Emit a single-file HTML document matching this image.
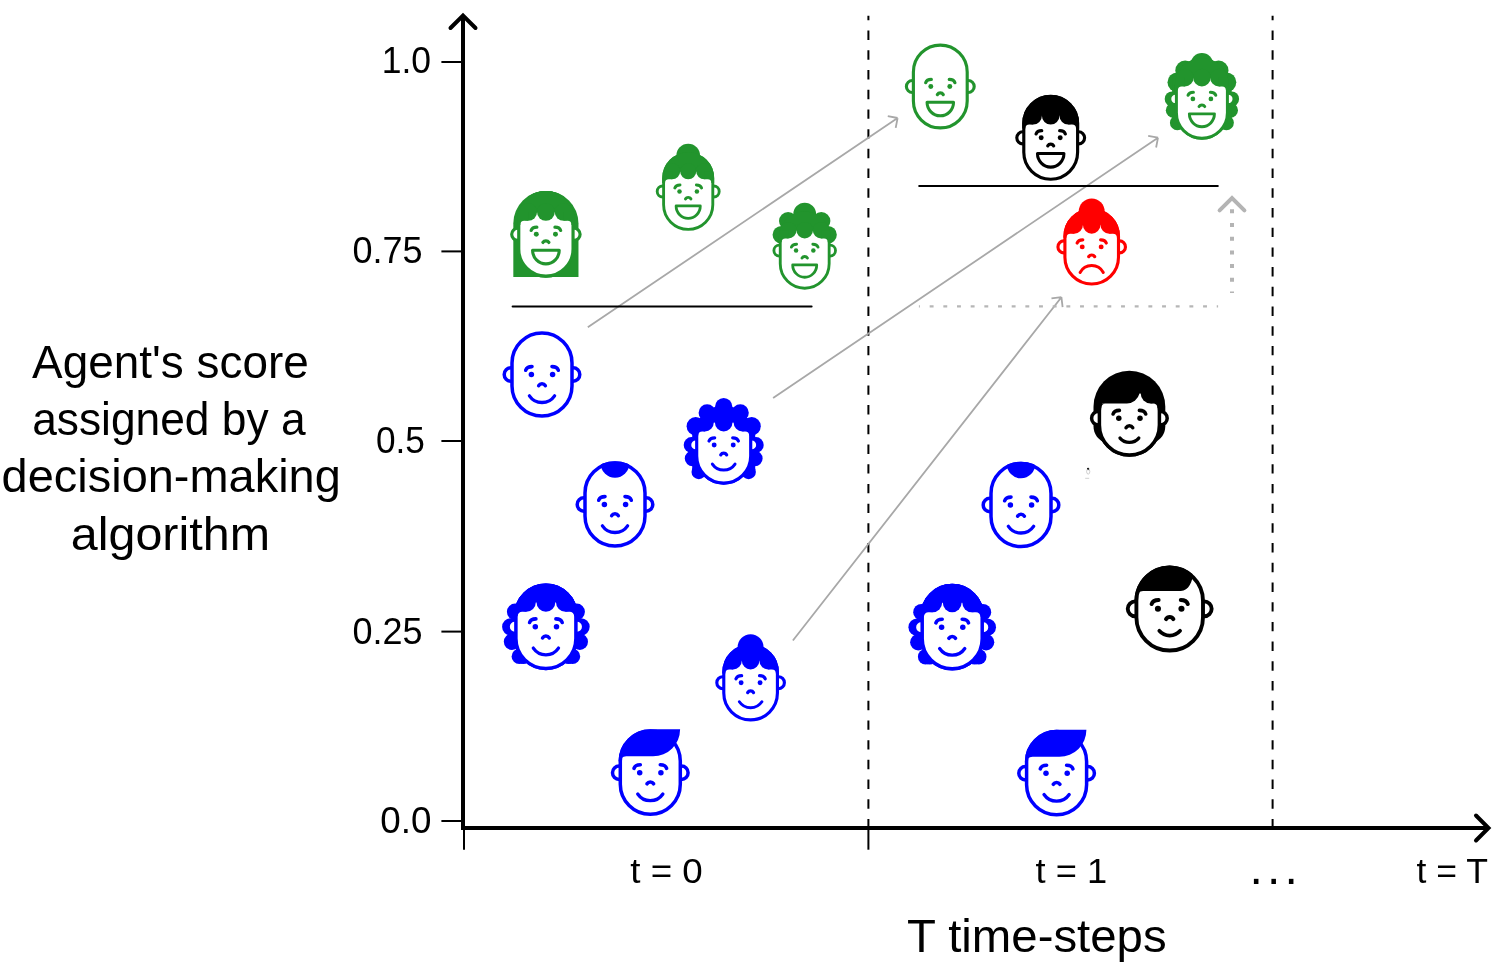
<!DOCTYPE html>
<html lang="en"><head><meta charset="utf-8"><title>Agent score over T time-steps</title>
<style>
html,body{margin:0;padding:0;background:#fff;overflow:hidden}
svg{display:block}
text{font-family:"Liberation Sans",sans-serif;fill:#000}
</style></head>
<body>
<svg width="1499" height="964" viewBox="0 0 1499 964">
<rect width="1499" height="964" fill="#fff"/>
<path d="M868.4,828.4V15.8" stroke="#000" stroke-width="2" stroke-dasharray="9.4 10.31" fill="none"/>
<path d="M1272.6,828.4V15.8" stroke="#000" stroke-width="2" stroke-dasharray="9.4 10.31" fill="none"/>
<path d="M587.8,327.3L897.6,118M897.6,118L895.7,127.82M897.6,118L887.78,116.1" fill="none" stroke="#a8a8a8" stroke-width="1.8" stroke-linejoin="round"/>
<path d="M773.1,398.1L1158,137.7M1158,137.7L1156.11,147.52M1158,137.7L1148.18,135.81" fill="none" stroke="#a8a8a8" stroke-width="1.8" stroke-linejoin="round"/>
<path d="M792.9,640.5L1061.4,297.2M1061.4,297.2L1062.61,307.13M1061.4,297.2L1051.47,298.41" fill="none" stroke="#a8a8a8" stroke-width="1.8" stroke-linejoin="round"/>
<path d="M918.9,306.4H1218.1" stroke="#b6b6b6" stroke-width="2.1" stroke-dasharray="3.9 9.77" stroke-dashoffset="2.9" fill="none"/>
<path d="M1232,209.3V293" stroke="#b4b4b4" stroke-width="4" stroke-dasharray="4 9.7" fill="none"/>
<path d="M1219.6,210.4L1232,198L1244.4,210.4" stroke="#b4b4b4" stroke-width="4" stroke-linecap="round" stroke-linejoin="miter" fill="none"/>
<path d="M512.6,306.4H811.6" stroke="#000" stroke-width="2" stroke-linecap="round" fill="none"/>
<path d="M919.2,186H1217.8" stroke="#000" stroke-width="2" stroke-linecap="round" fill="none"/>
<g transform="translate(545.9,234.3) scale(0.905)" color="#22942d"><path d="M-36,47.2V-12.2A36,35.75 0 0 1 36,-12.2V47.2Z" fill="currentColor"/><path d="M-30,-16.2A30,30 0 0 1 30,-16.2V16.2A30,30 0 0 1 -30,16.2Z" fill="#fff" stroke="currentColor" stroke-width="3.5"/><circle cx="-31.1" cy="0" r="6.7" fill="#fff" stroke="currentColor" stroke-width="3.5"/><circle cx="31.1" cy="0" r="6.7" fill="#fff" stroke="currentColor" stroke-width="3.5"/><path d="M-30,-16.2A30,30 0 0 1 30,-16.2V16.2A30,30 0 0 1 -30,16.2Z" fill="#fff" stroke="currentColor" stroke-width="3.5"/><clipPath id="c1"><path d="M-31.75,-16.2A31.75,31.75 0 0 1 31.75,-16.2V16.2A31.75,31.75 0 0 1 -31.75,16.2Z"/></clipPath><g clip-path="url(#c1)" fill="currentColor"><rect x="-40" y="-51.2" width="80" height="26.5"/><circle cx="-19.6" cy="-24.7" r="9.84"/><circle cx="0" cy="-24.7" r="9.84"/><circle cx="19.6" cy="-24.7" r="9.84"/><path d="M-19.6,-24.7V-14.86H-23.75A4.5,4.5 0 0 0 -28.25,-10.36H-40V-24.7ZM19.6,-24.7V-14.86H23.75A4.5,4.5 0 0 1 28.25,-10.36H40V-24.7Z"/></g><path d="M-16.3,-4.3C-15.5,-6.7 -13.2,-7.9 -10,-7.9M16.3,-4.3C15.5,-6.7 13.2,-7.9 10,-7.9" fill="none" stroke="currentColor" stroke-width="3.6" stroke-linecap="round"/><circle cx="-10.6" cy="0" r="2.75" fill="currentColor"/><circle cx="10.6" cy="0" r="2.75" fill="currentColor"/><path d="M-3.3,9A3.87,3.87 0 0 1 3.3,9" fill="none" stroke="currentColor" stroke-width="3.6" stroke-linecap="round"/><path d="M-14.75,17.6H14.75A14.75,15.1 0 0 1 -14.75,17.6Z" fill="#fff" stroke="currentColor" stroke-width="3.4" stroke-linejoin="round"/></g>
<g transform="translate(688.2,191.5) scale(0.82)" color="#22942d"><circle cx="0" cy="-43.6" r="14.5" fill="currentColor"/><circle cx="-31.1" cy="0" r="6.7" fill="#fff" stroke="currentColor" stroke-width="3.5"/><circle cx="31.1" cy="0" r="6.7" fill="#fff" stroke="currentColor" stroke-width="3.5"/><path d="M-30,-16.2A30,30 0 0 1 30,-16.2V16.2A30,30 0 0 1 -30,16.2Z" fill="#fff" stroke="currentColor" stroke-width="3.5"/><clipPath id="c2"><path d="M-31.75,-16.2A31.75,31.75 0 0 1 31.75,-16.2V16.2A31.75,31.75 0 0 1 -31.75,16.2Z"/></clipPath><g clip-path="url(#c2)" fill="currentColor"><rect x="-40" y="-51.2" width="80" height="26.5"/><circle cx="-19.6" cy="-24.7" r="9.84"/><circle cx="0" cy="-24.7" r="9.84"/><circle cx="19.6" cy="-24.7" r="9.84"/><path d="M-19.6,-24.7V-14.86H-23.75A4.5,4.5 0 0 0 -28.25,-10.36H-40V-24.7ZM19.6,-24.7V-14.86H23.75A4.5,4.5 0 0 1 28.25,-10.36H40V-24.7Z"/></g><path d="M-16.3,-4.3C-15.5,-6.7 -13.2,-7.9 -10,-7.9M16.3,-4.3C15.5,-6.7 13.2,-7.9 10,-7.9" fill="none" stroke="currentColor" stroke-width="3.6" stroke-linecap="round"/><circle cx="-10.6" cy="0" r="2.75" fill="currentColor"/><circle cx="10.6" cy="0" r="2.75" fill="currentColor"/><path d="M-3.3,9A3.87,3.87 0 0 1 3.3,9" fill="none" stroke="currentColor" stroke-width="3.6" stroke-linecap="round"/><path d="M-14.75,17.6H14.75A14.75,15.1 0 0 1 -14.75,17.6Z" fill="#fff" stroke="currentColor" stroke-width="3.4" stroke-linejoin="round"/></g>
<g transform="translate(804.7,250.6) scale(0.815)" color="#22942d"><g fill="currentColor"><circle cx="0" cy="-44.79" r="13.99"/><circle cx="20.37" cy="-36.2" r="11.17"/><circle cx="-20.37" cy="-36.2" r="11.17"/><circle cx="28.59" cy="-19.39" r="10.8"/><circle cx="-28.59" cy="-19.39" r="10.8"/></g><circle cx="-31.1" cy="0" r="6.7" fill="#fff" stroke="currentColor" stroke-width="3.5"/><circle cx="31.1" cy="0" r="6.7" fill="#fff" stroke="currentColor" stroke-width="3.5"/><path d="M-30,-16.2A30,30 0 0 1 30,-16.2V16.2A30,30 0 0 1 -30,16.2Z" fill="#fff" stroke="currentColor" stroke-width="3.5"/><clipPath id="c3"><path d="M-31.75,-16.2A31.75,31.75 0 0 1 31.75,-16.2V16.2A31.75,31.75 0 0 1 -31.75,16.2Z"/></clipPath><g clip-path="url(#c3)" fill="currentColor"><rect x="-40" y="-51.2" width="80" height="26.17"/><circle cx="-20.12" cy="-25.03" r="10.18"/><circle cx="0" cy="-25.03" r="10.18"/><circle cx="20.12" cy="-25.03" r="10.18"/><path d="M-20.12,-25.03V-14.85H-23.75A4.5,4.5 0 0 0 -28.25,-10.35H-40V-25.03ZM20.12,-25.03V-14.85H23.75A4.5,4.5 0 0 1 28.25,-10.35H40V-25.03Z"/></g><path d="M-16.3,-4.3C-15.5,-6.7 -13.2,-7.9 -10,-7.9M16.3,-4.3C15.5,-6.7 13.2,-7.9 10,-7.9" fill="none" stroke="currentColor" stroke-width="3.6" stroke-linecap="round"/><circle cx="-10.6" cy="0" r="2.75" fill="currentColor"/><circle cx="10.6" cy="0" r="2.75" fill="currentColor"/><path d="M-3.3,9A3.87,3.87 0 0 1 3.3,9" fill="none" stroke="currentColor" stroke-width="3.6" stroke-linecap="round"/><path d="M-14.75,17.6H14.75A14.75,15.1 0 0 1 -14.75,17.6Z" fill="#fff" stroke="currentColor" stroke-width="3.4" stroke-linejoin="round"/></g>
<g transform="translate(542,374.5) scale(1.0)" color="#0000ff"><circle cx="-31.1" cy="0" r="6.7" fill="#fff" stroke="currentColor" stroke-width="3.5"/><circle cx="31.1" cy="0" r="6.7" fill="#fff" stroke="currentColor" stroke-width="3.5"/><path d="M-30,-11.6A30,30 0 0 1 30,-11.6V11.6A30,30 0 0 1 -30,11.6Z" fill="#fff" stroke="currentColor" stroke-width="3.5"/><path d="M-16.3,-4.3C-15.5,-6.7 -13.2,-7.9 -10,-7.9M16.3,-4.3C15.5,-6.7 13.2,-7.9 10,-7.9" fill="none" stroke="currentColor" stroke-width="3.6" stroke-linecap="round"/><circle cx="-10.6" cy="0" r="2.75" fill="currentColor"/><circle cx="10.6" cy="0" r="2.75" fill="currentColor"/><path d="M-3.3,11.1A3.87,3.87 0 0 1 3.3,11.1" fill="none" stroke="currentColor" stroke-width="3.6" stroke-linecap="round"/><path d="M-12.6,21.3A15.2,15.2 0 0 0 12.6,21.3" fill="none" stroke="currentColor" stroke-width="3.3" stroke-linecap="round"/></g>
<g transform="translate(723.7,444.9) scale(0.9)" color="#0000ff"><g fill="currentColor"><circle cx="0" cy="-42.67" r="9.56"/><circle cx="18.44" cy="-35.78" r="9.44"/><circle cx="-18.44" cy="-35.78" r="9.44"/><circle cx="31.11" cy="-20.78" r="10.11"/><circle cx="-31.11" cy="-20.78" r="10.11"/><circle cx="35.78" cy="0" r="8.67"/><circle cx="-35.78" cy="0" r="8.67"/><circle cx="34.56" cy="15" r="8.67"/><circle cx="-34.56" cy="15" r="8.67"/><circle cx="27.67" cy="30" r="8.11"/><circle cx="-27.67" cy="30" r="8.11"/><ellipse cx="0" cy="-11.11" rx="30" ry="30"/><rect x="-35" y="-24.44" width="70" height="52.22"/></g><path d="M-30,-11.6A30,30 0 0 1 30,-11.6V12.4A30,30 0 0 1 -30,12.4Z" fill="#fff" stroke="currentColor" stroke-width="3.5"/><circle cx="-31.1" cy="0" r="6.7" fill="#fff" stroke="currentColor" stroke-width="3.5"/><circle cx="31.1" cy="0" r="6.7" fill="#fff" stroke="currentColor" stroke-width="3.5"/><path d="M-30,-11.6A30,30 0 0 1 30,-11.6V12.4A30,30 0 0 1 -30,12.4Z" fill="#fff" stroke="currentColor" stroke-width="3.5"/><clipPath id="c4"><path d="M-31.75,-11.6A31.75,31.75 0 0 1 31.75,-11.6V12.4A31.75,31.75 0 0 1 -31.75,12.4Z"/></clipPath><g clip-path="url(#c4)" fill="currentColor"><rect x="-40" y="-46.6" width="80" height="21.82"/><circle cx="-20.78" cy="-24.78" r="9.78"/><circle cx="0" cy="-24.78" r="9.78"/><circle cx="20.78" cy="-24.78" r="9.78"/><path d="M-20.78,-24.78V-15H-23.75A4.5,4.5 0 0 0 -28.25,-10.5H-40V-24.78ZM20.78,-24.78V-15H23.75A4.5,4.5 0 0 1 28.25,-10.5H40V-24.78Z"/></g><path d="M-16.3,-4.3C-15.5,-6.7 -13.2,-7.9 -10,-7.9M16.3,-4.3C15.5,-6.7 13.2,-7.9 10,-7.9" fill="none" stroke="currentColor" stroke-width="3.6" stroke-linecap="round"/><circle cx="-10.6" cy="0" r="2.75" fill="currentColor"/><circle cx="10.6" cy="0" r="2.75" fill="currentColor"/><path d="M-3.3,11.1A3.87,3.87 0 0 1 3.3,11.1" fill="none" stroke="currentColor" stroke-width="3.6" stroke-linecap="round"/><path d="M-12.6,21.3A15.2,15.2 0 0 0 12.6,21.3" fill="none" stroke="currentColor" stroke-width="3.3" stroke-linecap="round"/></g>
<g transform="translate(615,504.5) scale(1.0)" color="#0000ff"><circle cx="-31.1" cy="0" r="6.7" fill="#fff" stroke="currentColor" stroke-width="3.5"/><circle cx="31.1" cy="0" r="6.7" fill="#fff" stroke="currentColor" stroke-width="3.5"/><path d="M-30,-11.6A30,30 0 0 1 30,-11.6V11.6A30,30 0 0 1 -30,11.6Z" fill="#fff" stroke="currentColor" stroke-width="3.5"/><clipPath id="c5"><path d="M-31.75,-11.6A31.75,31.75 0 0 1 31.75,-11.6V11.6A31.75,31.75 0 0 1 -31.75,11.6Z"/></clipPath><circle cx="0" cy="-41" r="14.3" fill="currentColor" clip-path="url(#c5)"/><path d="M-16.3,-4.3C-15.5,-6.7 -13.2,-7.9 -10,-7.9M16.3,-4.3C15.5,-6.7 13.2,-7.9 10,-7.9" fill="none" stroke="currentColor" stroke-width="3.6" stroke-linecap="round"/><circle cx="-10.6" cy="0" r="2.75" fill="currentColor"/><circle cx="10.6" cy="0" r="2.75" fill="currentColor"/><path d="M-3.3,11.1A3.87,3.87 0 0 1 3.3,11.1" fill="none" stroke="currentColor" stroke-width="3.6" stroke-linecap="round"/><path d="M-12.6,21.3A15.2,15.2 0 0 0 12.6,21.3" fill="none" stroke="currentColor" stroke-width="3.3" stroke-linecap="round"/></g>
<g transform="translate(545.9,626.8) scale(1.0)" color="#0000ff"><g fill="currentColor"><circle cx="30.7" cy="-15" r="8.3"/><circle cx="-30.7" cy="-15" r="8.3"/><circle cx="35.2" cy="0" r="8.6"/><circle cx="-35.2" cy="0" r="8.6"/><circle cx="33.9" cy="15" r="8.2"/><circle cx="-33.9" cy="15" r="8.2"/><circle cx="26.6" cy="29.6" r="7.7"/><circle cx="-26.6" cy="29.6" r="7.7"/><circle cx="22.5" cy="31" r="6.3"/><circle cx="-22.5" cy="31" r="6.3"/></g><path d="M-30,-11.6A30,30 0 0 1 30,-11.6V11.6A30,30 0 0 1 -30,11.6Z" fill="#fff" stroke="currentColor" stroke-width="3.5"/><circle cx="-31.1" cy="0" r="6.7" fill="#fff" stroke="currentColor" stroke-width="3.5"/><circle cx="31.1" cy="0" r="6.7" fill="#fff" stroke="currentColor" stroke-width="3.5"/><path d="M-30,-11.6A30,30 0 0 1 30,-11.6V11.6A30,30 0 0 1 -30,11.6Z" fill="#fff" stroke="currentColor" stroke-width="3.5"/><clipPath id="c6"><path d="M-31.75,-11.6A31.75,31.75 0 0 1 31.75,-11.6V11.6A31.75,31.75 0 0 1 -31.75,11.6Z"/></clipPath><g clip-path="url(#c6)" fill="currentColor"><rect x="-40" y="-46.6" width="80" height="22.2"/><circle cx="-19.5" cy="-24.4" r="9.4"/><circle cx="0" cy="-24.4" r="9.4"/><circle cx="19.5" cy="-24.4" r="9.4"/><path d="M-19.5,-24.4V-15H-23.75A4.5,4.5 0 0 0 -28.25,-10.5H-40V-24.4ZM19.5,-24.4V-15H23.75A4.5,4.5 0 0 1 28.25,-10.5H40V-24.4Z"/></g><path d="M-16.3,-4.3C-15.5,-6.7 -13.2,-7.9 -10,-7.9M16.3,-4.3C15.5,-6.7 13.2,-7.9 10,-7.9" fill="none" stroke="currentColor" stroke-width="3.6" stroke-linecap="round"/><circle cx="-10.6" cy="0" r="2.75" fill="currentColor"/><circle cx="10.6" cy="0" r="2.75" fill="currentColor"/><path d="M-3.3,11.1A3.87,3.87 0 0 1 3.3,11.1" fill="none" stroke="currentColor" stroke-width="3.6" stroke-linecap="round"/><path d="M-12.6,21.3A15.2,15.2 0 0 0 12.6,21.3" fill="none" stroke="currentColor" stroke-width="3.3" stroke-linecap="round"/></g>
<g transform="translate(750.6,682.7) scale(0.894)" color="#0000ff"><circle cx="0" cy="-39.8" r="14.5" fill="currentColor"/><circle cx="-31.1" cy="0" r="6.7" fill="#fff" stroke="currentColor" stroke-width="3.5"/><circle cx="31.1" cy="0" r="6.7" fill="#fff" stroke="currentColor" stroke-width="3.5"/><path d="M-30,-11.6A30,30 0 0 1 30,-11.6V11.6A30,30 0 0 1 -30,11.6Z" fill="#fff" stroke="currentColor" stroke-width="3.5"/><clipPath id="c7"><path d="M-31.75,-11.6A31.75,31.75 0 0 1 31.75,-11.6V11.6A31.75,31.75 0 0 1 -31.75,11.6Z"/></clipPath><g clip-path="url(#c7)" fill="currentColor"><rect x="-40" y="-46.6" width="80" height="21.9"/><circle cx="-19.6" cy="-24.7" r="9.84"/><circle cx="0" cy="-24.7" r="9.84"/><circle cx="19.6" cy="-24.7" r="9.84"/><path d="M-19.6,-24.7V-14.86H-23.75A4.5,4.5 0 0 0 -28.25,-10.36H-40V-24.7ZM19.6,-24.7V-14.86H23.75A4.5,4.5 0 0 1 28.25,-10.36H40V-24.7Z"/></g><path d="M-16.3,-4.3C-15.5,-6.7 -13.2,-7.9 -10,-7.9M16.3,-4.3C15.5,-6.7 13.2,-7.9 10,-7.9" fill="none" stroke="currentColor" stroke-width="3.6" stroke-linecap="round"/><circle cx="-10.6" cy="0" r="2.75" fill="currentColor"/><circle cx="10.6" cy="0" r="2.75" fill="currentColor"/><path d="M-3.3,11.1A3.87,3.87 0 0 1 3.3,11.1" fill="none" stroke="currentColor" stroke-width="3.6" stroke-linecap="round"/><path d="M-12.6,21.3A15.2,15.2 0 0 0 12.6,21.3" fill="none" stroke="currentColor" stroke-width="3.3" stroke-linecap="round"/></g>
<g transform="translate(650.3,772.7) scale(1.0)" color="#0000ff"><circle cx="-31.1" cy="0" r="6.7" fill="#fff" stroke="currentColor" stroke-width="3.5"/><circle cx="31.1" cy="0" r="6.7" fill="#fff" stroke="currentColor" stroke-width="3.5"/><path d="M-30,-11.6A30,30 0 0 1 30,-11.6V11.6A30,30 0 0 1 -30,11.6Z" fill="#fff" stroke="currentColor" stroke-width="3.5"/><path d="M-31.75,-11.6A31.75,31.75 0 0 1 0,-43.35H29.8A27,27 0 0 1 2.8,-16.4H-24Q-30,-16.2 -30.2,-9.5Z" fill="currentColor"/><path d="M-16.3,-4.3C-15.5,-6.7 -13.2,-7.9 -10,-7.9M16.3,-4.3C15.5,-6.7 13.2,-7.9 10,-7.9" fill="none" stroke="currentColor" stroke-width="3.6" stroke-linecap="round"/><circle cx="-10.6" cy="0" r="2.75" fill="currentColor"/><circle cx="10.6" cy="0" r="2.75" fill="currentColor"/><path d="M-3.3,11.1A3.87,3.87 0 0 1 3.3,11.1" fill="none" stroke="currentColor" stroke-width="3.6" stroke-linecap="round"/><path d="M-12.6,21.3A15.2,15.2 0 0 0 12.6,21.3" fill="none" stroke="currentColor" stroke-width="3.3" stroke-linecap="round"/></g>
<g transform="translate(940.3,86.5) scale(0.897)" color="#22942d"><circle cx="-31.1" cy="0" r="6.7" fill="#fff" stroke="currentColor" stroke-width="3.5"/><circle cx="31.1" cy="0" r="6.7" fill="#fff" stroke="currentColor" stroke-width="3.5"/><path d="M-30,-16.2A30,30 0 0 1 30,-16.2V16.2A30,30 0 0 1 -30,16.2Z" fill="#fff" stroke="currentColor" stroke-width="3.5"/><path d="M-16.3,-4.3C-15.5,-6.7 -13.2,-7.9 -10,-7.9M16.3,-4.3C15.5,-6.7 13.2,-7.9 10,-7.9" fill="none" stroke="currentColor" stroke-width="3.6" stroke-linecap="round"/><circle cx="-10.6" cy="0" r="2.75" fill="currentColor"/><circle cx="10.6" cy="0" r="2.75" fill="currentColor"/><path d="M-3.3,9A3.87,3.87 0 0 1 3.3,9" fill="none" stroke="currentColor" stroke-width="3.6" stroke-linecap="round"/><path d="M-14.75,17.6H14.75A14.75,15.1 0 0 1 -14.75,17.6Z" fill="#fff" stroke="currentColor" stroke-width="3.4" stroke-linejoin="round"/></g>
<g transform="translate(1050.7,137.8) scale(0.897)" color="#000000"><circle cx="-31.1" cy="0" r="6.7" fill="#fff" stroke="currentColor" stroke-width="3.5"/><circle cx="31.1" cy="0" r="6.7" fill="#fff" stroke="currentColor" stroke-width="3.5"/><path d="M-30,-16.2A30,30 0 0 1 30,-16.2V16.2A30,30 0 0 1 -30,16.2Z" fill="#fff" stroke="currentColor" stroke-width="3.5"/><clipPath id="c8"><path d="M-31.75,-16.2A31.75,31.75 0 0 1 31.75,-16.2V16.2A31.75,31.75 0 0 1 -31.75,16.2Z"/></clipPath><g clip-path="url(#c8)" fill="currentColor"><rect x="-40" y="-51.2" width="80" height="26.5"/><circle cx="-19.6" cy="-24.7" r="9.84"/><circle cx="0" cy="-24.7" r="9.84"/><circle cx="19.6" cy="-24.7" r="9.84"/><path d="M-19.6,-24.7V-14.86H-23.75A4.5,4.5 0 0 0 -28.25,-10.36H-40V-24.7ZM19.6,-24.7V-14.86H23.75A4.5,4.5 0 0 1 28.25,-10.36H40V-24.7Z"/></g><path d="M-16.3,-4.3C-15.5,-6.7 -13.2,-7.9 -10,-7.9M16.3,-4.3C15.5,-6.7 13.2,-7.9 10,-7.9" fill="none" stroke="currentColor" stroke-width="3.6" stroke-linecap="round"/><circle cx="-10.6" cy="0" r="2.75" fill="currentColor"/><circle cx="10.6" cy="0" r="2.75" fill="currentColor"/><path d="M-3.3,9A3.87,3.87 0 0 1 3.3,9" fill="none" stroke="currentColor" stroke-width="3.6" stroke-linecap="round"/><path d="M-14.75,17.6H14.75A14.75,15.1 0 0 1 -14.75,17.6Z" fill="#fff" stroke="currentColor" stroke-width="3.4" stroke-linejoin="round"/></g>
<g transform="translate(1201.9,98.9) scale(0.85)" color="#22942d"><g fill="currentColor"><circle cx="0" cy="-40.94" r="13.18"/><circle cx="19.65" cy="-33.53" r="11.65"/><circle cx="-19.65" cy="-33.53" r="11.65"/><circle cx="28.82" cy="-19.53" r="11.65"/><circle cx="-28.82" cy="-19.53" r="11.65"/><circle cx="34.94" cy="0" r="8.82"/><circle cx="-34.94" cy="0" r="8.82"/><circle cx="33.65" cy="13.41" r="8.82"/><circle cx="-33.65" cy="13.41" r="8.82"/><circle cx="28.82" cy="28.12" r="8.82"/><circle cx="-28.82" cy="28.12" r="8.82"/><ellipse cx="0" cy="-11.76" rx="31.76" ry="31.76"/><rect x="-35" y="-25.88" width="70" height="55.29"/></g><path d="M-30,-16.2A30,30 0 0 1 30,-16.2V16.2A30,30 0 0 1 -30,16.2Z" fill="#fff" stroke="currentColor" stroke-width="3.5"/><circle cx="-31.1" cy="0" r="6.7" fill="#fff" stroke="currentColor" stroke-width="3.5"/><circle cx="31.1" cy="0" r="6.7" fill="#fff" stroke="currentColor" stroke-width="3.5"/><path d="M-30,-16.2A30,30 0 0 1 30,-16.2V16.2A30,30 0 0 1 -30,16.2Z" fill="#fff" stroke="currentColor" stroke-width="3.5"/><clipPath id="c9"><path d="M-31.75,-16.2A31.75,31.75 0 0 1 31.75,-16.2V16.2A31.75,31.75 0 0 1 -31.75,16.2Z"/></clipPath><g clip-path="url(#c9)" fill="currentColor"><rect x="-40" y="-51.2" width="80" height="26.14"/><circle cx="-20" cy="-25.06" r="10.35"/><circle cx="0" cy="-25.06" r="10.35"/><circle cx="20" cy="-25.06" r="10.35"/><path d="M-20,-25.06V-14.71H-23.75A4.5,4.5 0 0 0 -28.25,-10.21H-40V-25.06ZM20,-25.06V-14.71H23.75A4.5,4.5 0 0 1 28.25,-10.21H40V-25.06Z"/></g><path d="M-16.3,-4.3C-15.5,-6.7 -13.2,-7.9 -10,-7.9M16.3,-4.3C15.5,-6.7 13.2,-7.9 10,-7.9" fill="none" stroke="currentColor" stroke-width="3.6" stroke-linecap="round"/><circle cx="-10.6" cy="0" r="2.75" fill="currentColor"/><circle cx="10.6" cy="0" r="2.75" fill="currentColor"/><path d="M-3.3,9A3.87,3.87 0 0 1 3.3,9" fill="none" stroke="currentColor" stroke-width="3.6" stroke-linecap="round"/><path d="M-14.75,17.6H14.75A14.75,15.1 0 0 1 -14.75,17.6Z" fill="#fff" stroke="currentColor" stroke-width="3.4" stroke-linejoin="round"/></g>
<g transform="translate(1091.7,246.9) scale(0.893)" color="#ff0000"><circle cx="0" cy="-39.8" r="14.5" fill="currentColor"/><circle cx="-31.1" cy="0" r="6.7" fill="#fff" stroke="currentColor" stroke-width="3.5"/><circle cx="31.1" cy="0" r="6.7" fill="#fff" stroke="currentColor" stroke-width="3.5"/><path d="M-30,-11.6A30,30 0 0 1 30,-11.6V11.6A30,30 0 0 1 -30,11.6Z" fill="#fff" stroke="currentColor" stroke-width="3.5"/><clipPath id="c10"><path d="M-31.75,-11.6A31.75,31.75 0 0 1 31.75,-11.6V11.6A31.75,31.75 0 0 1 -31.75,11.6Z"/></clipPath><g clip-path="url(#c10)" fill="currentColor"><rect x="-40" y="-46.6" width="80" height="21.9"/><circle cx="-19.6" cy="-24.7" r="9.84"/><circle cx="0" cy="-24.7" r="9.84"/><circle cx="19.6" cy="-24.7" r="9.84"/><path d="M-19.6,-24.7V-14.86H-23.75A4.5,4.5 0 0 0 -28.25,-10.36H-40V-24.7ZM19.6,-24.7V-14.86H23.75A4.5,4.5 0 0 1 28.25,-10.36H40V-24.7Z"/></g><path d="M-16.3,-4.3C-15.5,-6.7 -13.2,-7.9 -10,-7.9M16.3,-4.3C15.5,-6.7 13.2,-7.9 10,-7.9" fill="none" stroke="currentColor" stroke-width="3.6" stroke-linecap="round"/><circle cx="-10.6" cy="0" r="2.75" fill="currentColor"/><circle cx="10.6" cy="0" r="2.75" fill="currentColor"/><path d="M-3.3,10.9A3.87,3.87 0 0 1 3.3,10.9" fill="none" stroke="currentColor" stroke-width="3.6" stroke-linecap="round"/><path d="M-13,28.7A14.7,14.7 0 0 1 13,28.7" fill="none" stroke="currentColor" stroke-width="3.3" stroke-linecap="round"/></g>
<g transform="translate(1129.4,418.3) scale(1.0)" color="#000000"><path d="M-35.9,-11.6A35.9,35.9 0 0 1 35.9,-11.6V8C35.9,16 31,21 26,24H-26C-31,21 -35.9,16 -35.9,8Z" fill="currentColor"/><path d="M-30,-7.5A30,30 0 0 1 30,-7.5V6.8A30,30 0 0 1 -30,6.8Z" fill="#fff" stroke="currentColor" stroke-width="3.5"/><circle cx="-31.1" cy="0" r="6.7" fill="#fff" stroke="currentColor" stroke-width="3.5"/><circle cx="31.1" cy="0" r="6.7" fill="#fff" stroke="currentColor" stroke-width="3.5"/><path d="M-30,-7.5A30,30 0 0 1 30,-7.5V6.8A30,30 0 0 1 -30,6.8Z" fill="#fff" stroke="currentColor" stroke-width="3.5"/><clipPath id="c11"><path d="M-31.75,-7.5A31.75,31.75 0 0 1 31.75,-7.5V6.8A31.75,31.75 0 0 1 -31.75,6.8Z"/></clipPath><g clip-path="url(#c11)" fill="currentColor"><path d="M-40,-50H40V-24.7H10.1A13,13 0 0 1 -2.7,-14.8H-40Z"/><circle cx="21.2" cy="-24.7" r="9.9"/><path d="M21.2,-24.7V-14.8H23.75A4.5,4.5 0 0 1 28.25,-10.3H40V-24.7ZM-23.75,-14.8A4.5,4.5 0 0 0 -28.25,-10.3H-40V-14.8Z"/></g><path d="M-16.3,-4.3C-15.5,-6.7 -13.2,-7.9 -10,-7.9M16.3,-4.3C15.5,-6.7 13.2,-7.9 10,-7.9" fill="none" stroke="currentColor" stroke-width="3.6" stroke-linecap="round"/><circle cx="-10.6" cy="0" r="2.75" fill="currentColor"/><circle cx="10.6" cy="0" r="2.75" fill="currentColor"/><path d="M-3.3,9.3A3.87,3.87 0 0 1 3.3,9.3" fill="none" stroke="currentColor" stroke-width="3.6" stroke-linecap="round"/><path d="M-9.4,19.8A12.4,12.4 0 0 0 9.4,19.8" fill="none" stroke="currentColor" stroke-width="3.3" stroke-linecap="round"/></g>
<g transform="translate(1021,505) scale(1.0)" color="#0000ff"><circle cx="-31.1" cy="0" r="6.7" fill="#fff" stroke="currentColor" stroke-width="3.5"/><circle cx="31.1" cy="0" r="6.7" fill="#fff" stroke="currentColor" stroke-width="3.5"/><path d="M-30,-11.6A30,30 0 0 1 30,-11.6V11.6A30,30 0 0 1 -30,11.6Z" fill="#fff" stroke="currentColor" stroke-width="3.5"/><clipPath id="c12"><path d="M-31.75,-11.6A31.75,31.75 0 0 1 31.75,-11.6V11.6A31.75,31.75 0 0 1 -31.75,11.6Z"/></clipPath><circle cx="0" cy="-41" r="14.3" fill="currentColor" clip-path="url(#c12)"/><path d="M-16.3,-4.3C-15.5,-6.7 -13.2,-7.9 -10,-7.9M16.3,-4.3C15.5,-6.7 13.2,-7.9 10,-7.9" fill="none" stroke="currentColor" stroke-width="3.6" stroke-linecap="round"/><circle cx="-10.6" cy="0" r="2.75" fill="currentColor"/><circle cx="10.6" cy="0" r="2.75" fill="currentColor"/><path d="M-3.3,11.1A3.87,3.87 0 0 1 3.3,11.1" fill="none" stroke="currentColor" stroke-width="3.6" stroke-linecap="round"/><path d="M-12.6,21.3A15.2,15.2 0 0 0 12.6,21.3" fill="none" stroke="currentColor" stroke-width="3.3" stroke-linecap="round"/></g>
<g transform="translate(952.2,627.2) scale(1.0)" color="#0000ff"><g fill="currentColor"><circle cx="30.7" cy="-15" r="8.3"/><circle cx="-30.7" cy="-15" r="8.3"/><circle cx="35.2" cy="0" r="8.6"/><circle cx="-35.2" cy="0" r="8.6"/><circle cx="33.9" cy="15" r="8.2"/><circle cx="-33.9" cy="15" r="8.2"/><circle cx="26.6" cy="29.6" r="7.7"/><circle cx="-26.6" cy="29.6" r="7.7"/><circle cx="22.5" cy="31" r="6.3"/><circle cx="-22.5" cy="31" r="6.3"/></g><path d="M-30,-11.6A30,30 0 0 1 30,-11.6V11.6A30,30 0 0 1 -30,11.6Z" fill="#fff" stroke="currentColor" stroke-width="3.5"/><circle cx="-31.1" cy="0" r="6.7" fill="#fff" stroke="currentColor" stroke-width="3.5"/><circle cx="31.1" cy="0" r="6.7" fill="#fff" stroke="currentColor" stroke-width="3.5"/><path d="M-30,-11.6A30,30 0 0 1 30,-11.6V11.6A30,30 0 0 1 -30,11.6Z" fill="#fff" stroke="currentColor" stroke-width="3.5"/><clipPath id="c13"><path d="M-31.75,-11.6A31.75,31.75 0 0 1 31.75,-11.6V11.6A31.75,31.75 0 0 1 -31.75,11.6Z"/></clipPath><g clip-path="url(#c13)" fill="currentColor"><rect x="-40" y="-46.6" width="80" height="22.2"/><circle cx="-19.5" cy="-24.4" r="9.4"/><circle cx="0" cy="-24.4" r="9.4"/><circle cx="19.5" cy="-24.4" r="9.4"/><path d="M-19.5,-24.4V-15H-23.75A4.5,4.5 0 0 0 -28.25,-10.5H-40V-24.4ZM19.5,-24.4V-15H23.75A4.5,4.5 0 0 1 28.25,-10.5H40V-24.4Z"/></g><path d="M-16.3,-4.3C-15.5,-6.7 -13.2,-7.9 -10,-7.9M16.3,-4.3C15.5,-6.7 13.2,-7.9 10,-7.9" fill="none" stroke="currentColor" stroke-width="3.6" stroke-linecap="round"/><circle cx="-10.6" cy="0" r="2.75" fill="currentColor"/><circle cx="10.6" cy="0" r="2.75" fill="currentColor"/><path d="M-3.3,11.1A3.87,3.87 0 0 1 3.3,11.1" fill="none" stroke="currentColor" stroke-width="3.6" stroke-linecap="round"/><path d="M-12.6,21.3A15.2,15.2 0 0 0 12.6,21.3" fill="none" stroke="currentColor" stroke-width="3.3" stroke-linecap="round"/></g>
<g transform="translate(1169.7,608.8) scale(1.11)" color="#000000"><circle cx="-31.1" cy="0" r="6.7" fill="#fff" stroke="currentColor" stroke-width="3.5"/><circle cx="31.1" cy="0" r="6.7" fill="#fff" stroke="currentColor" stroke-width="3.5"/><path d="M-30,-7.2A30,30 0 0 1 30,-7.2V7.6A30,30 0 0 1 -30,7.6Z" fill="#fff" stroke="currentColor" stroke-width="3.5"/><path d="M-31.75,-7.2A31.75,31.75 0 0 1 20.6,-31.36C21.1,-25.36 17,-16 10,-16H-24Q-29,-16 -30,-10Z" fill="currentColor"/><path d="M-16.3,-4.3C-15.5,-6.7 -13.2,-7.9 -10,-7.9M16.3,-4.3C15.5,-6.7 13.2,-7.9 10,-7.9" fill="none" stroke="currentColor" stroke-width="3.6" stroke-linecap="round"/><circle cx="-10.6" cy="0" r="2.75" fill="currentColor"/><circle cx="10.6" cy="0" r="2.75" fill="currentColor"/><path d="M-3.3,9.3A3.87,3.87 0 0 1 3.3,9.3" fill="none" stroke="currentColor" stroke-width="3.6" stroke-linecap="round"/><path d="M-9.4,19.8A12.4,12.4 0 0 0 9.4,19.8" fill="none" stroke="currentColor" stroke-width="3.3" stroke-linecap="round"/></g>
<g transform="translate(1056.6,773.2) scale(1.0)" color="#0000ff"><circle cx="-31.1" cy="0" r="6.7" fill="#fff" stroke="currentColor" stroke-width="3.5"/><circle cx="31.1" cy="0" r="6.7" fill="#fff" stroke="currentColor" stroke-width="3.5"/><path d="M-30,-11.6A30,30 0 0 1 30,-11.6V11.6A30,30 0 0 1 -30,11.6Z" fill="#fff" stroke="currentColor" stroke-width="3.5"/><path d="M-31.75,-11.6A31.75,31.75 0 0 1 0,-43.35H29.8A27,27 0 0 1 2.8,-16.4H-24Q-30,-16.2 -30.2,-9.5Z" fill="currentColor"/><path d="M-16.3,-4.3C-15.5,-6.7 -13.2,-7.9 -10,-7.9M16.3,-4.3C15.5,-6.7 13.2,-7.9 10,-7.9" fill="none" stroke="currentColor" stroke-width="3.6" stroke-linecap="round"/><circle cx="-10.6" cy="0" r="2.75" fill="currentColor"/><circle cx="10.6" cy="0" r="2.75" fill="currentColor"/><path d="M-3.3,11.1A3.87,3.87 0 0 1 3.3,11.1" fill="none" stroke="currentColor" stroke-width="3.6" stroke-linecap="round"/><path d="M-12.6,21.3A15.2,15.2 0 0 0 12.6,21.3" fill="none" stroke="currentColor" stroke-width="3.3" stroke-linecap="round"/></g>
<circle cx="1088.1" cy="469" r="1.15" fill="#000"/><ellipse cx="1088.2" cy="471.6" rx="1.6" ry="2.5" fill="none" stroke="#b0b0b0" stroke-width="0.6"/><path d="M1085.2,478.3H1089.2" stroke="#d0d0d0" stroke-width="1"/>
<path d="M463,830V15" stroke="#000" stroke-width="4" fill="none"/>
<path d="M461,828H1489" stroke="#000" stroke-width="4" fill="none"/>
<path d="M450.5,28L463,15.5L475.5,28" stroke="#000" stroke-width="4" stroke-linecap="round" stroke-linejoin="miter" fill="none"/>
<path d="M1476,815.5L1488.5,828L1476,840.5" stroke="#000" stroke-width="4" stroke-linecap="round" stroke-linejoin="miter" fill="none"/>
<path d="M441.4,62H462" stroke="#000" stroke-width="2" fill="none"/>
<path d="M441.4,251.4H462" stroke="#000" stroke-width="2" fill="none"/>
<path d="M441.4,441H462" stroke="#000" stroke-width="2" fill="none"/>
<path d="M441.4,631.6H462" stroke="#000" stroke-width="2" fill="none"/>
<path d="M441.4,821H462" stroke="#000" stroke-width="2" fill="none"/>
<path d="M464,829V849.7" stroke="#000" stroke-width="2" fill="none"/>
<path d="M868.4,829V849.7" stroke="#000" stroke-width="2" fill="none"/>
<text x="381.74" y="73.3" font-size="36.3" textLength="49.35" lengthAdjust="spacingAndGlyphs">1.0</text>
<text x="352.54" y="262.7" font-size="36.3" textLength="70.1" lengthAdjust="spacingAndGlyphs">0.75</text>
<text x="375.93" y="453.2" font-size="36.3" textLength="48.95" lengthAdjust="spacingAndGlyphs">0.5</text>
<text x="352.54" y="643.8" font-size="36.3" textLength="70.1" lengthAdjust="spacingAndGlyphs">0.25</text>
<text x="380.35" y="832.6" font-size="36.3" textLength="51.16" lengthAdjust="spacingAndGlyphs">0.0</text>
<text x="630.25" y="883.1" font-size="35.4" textLength="72.54" lengthAdjust="spacingAndGlyphs">t = 0</text>
<text x="1035.57" y="883.2" font-size="35.4" textLength="71.59" lengthAdjust="spacingAndGlyphs">t = 1</text>
<text x="1416.46" y="883.2" font-size="35.4" textLength="71.5" lengthAdjust="spacingAndGlyphs">t = T</text>
<text x="906.97" y="951.6" font-size="45.5" textLength="259.6" lengthAdjust="spacingAndGlyphs">T time-steps</text>
<text x="32.02" y="377.8" font-size="45.5" textLength="276.73" lengthAdjust="spacingAndGlyphs">Agent's score</text>
<text x="32.15" y="434.6" font-size="45.5" textLength="273.42" lengthAdjust="spacingAndGlyphs">assigned by a</text>
<text x="1.63" y="492.3" font-size="45.5" textLength="339.19" lengthAdjust="spacingAndGlyphs">decision-making</text>
<text x="70.73" y="549.6" font-size="45.5" textLength="199.28" lengthAdjust="spacingAndGlyphs">algorithm</text>
<text x="1249.5 1258 1266.9 1276 1284.4" y="884.2" font-size="48">. . .</text>
</svg>
</body></html>
